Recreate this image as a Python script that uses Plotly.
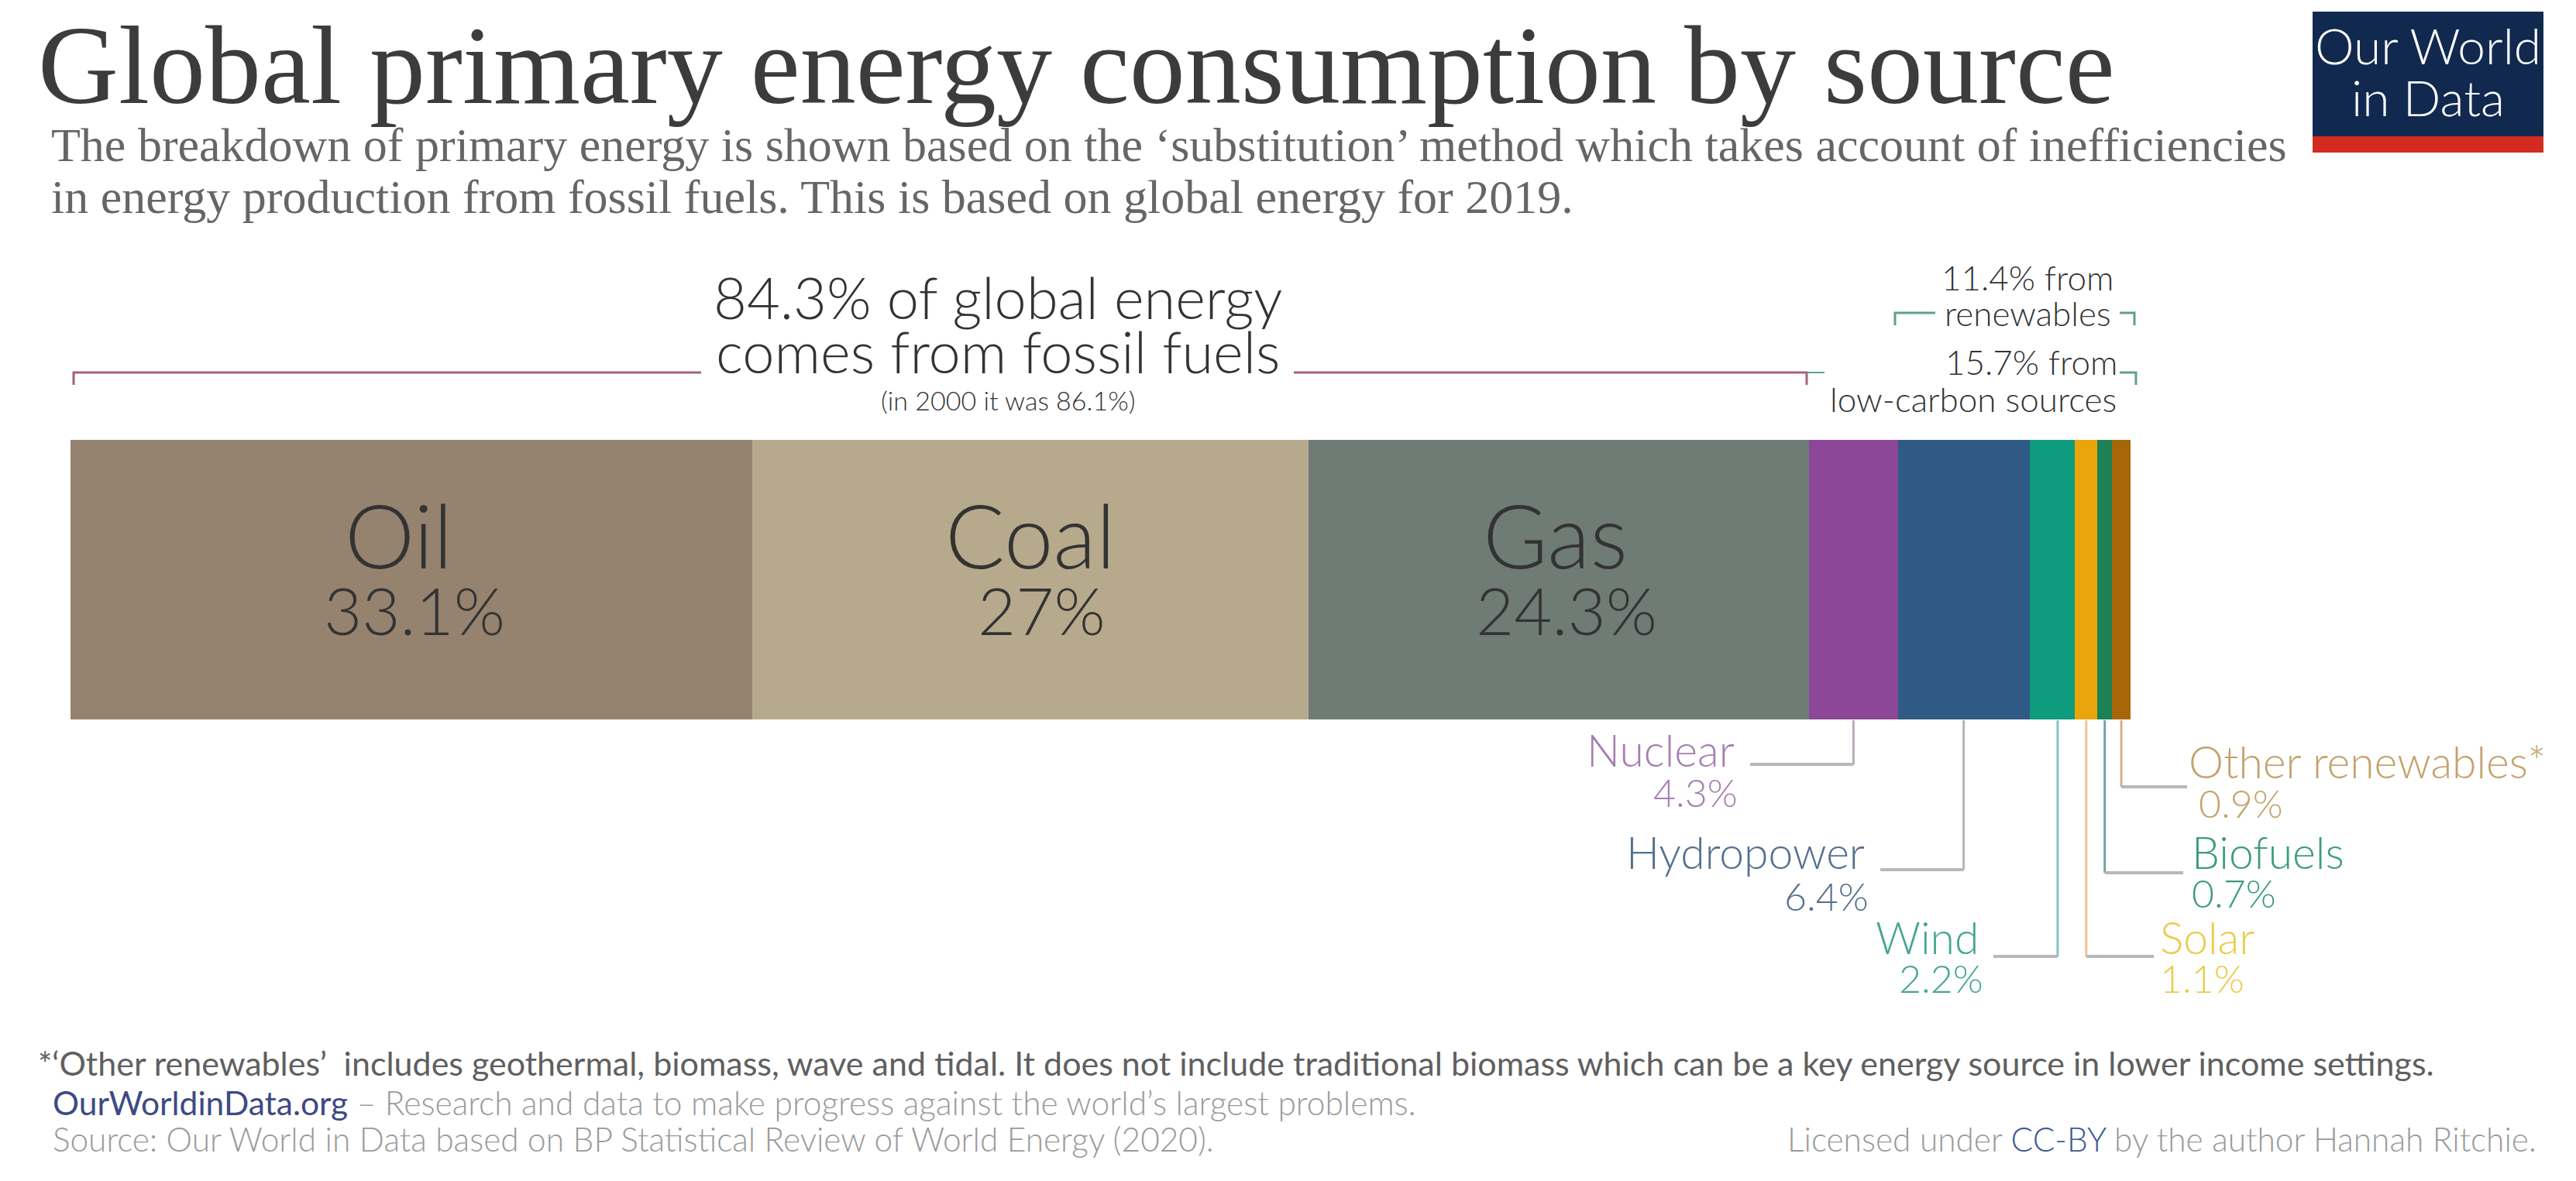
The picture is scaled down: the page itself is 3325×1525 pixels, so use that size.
import numpy as np
import plotly.graph_objects as go

W, H = 3325, 1525

# =====================================================
# DATA
# =====================================================
sources = ["Oil", "Coal", "Gas", "Nuclear", "Hydropower", "Wind", "Solar", "Biofuels", "Other renewables*"]
shares = [33.1, 27, 24.3, 4.3, 6.4, 2.2, 1.1, 0.7, 0.9]
bar_colors = ["#96836f", "#b7aa8c", "#6f7c76", "#8c4799", "#2f5a85", "#0e9b7e", "#eaa40c", "#1c8155", "#a76708"]
text_colors = ["#333333", "#333333", "#333333", "#a57db0", "#54708f", "#45a594", "#ecca4a", "#3b9c7b", "#c4a26c"]
stem_colors = ["", "", "", "#b9aab9", "#b4b4b4", "#7fc4c8", "#f0c48c", "#6fa6a6", "#d8ab90"]

fossil_note = ["84.3% of global energy", "comes from fossil fuels"]
fossil_sub = "(in 2000 it was 86.1%)"

title = "Global primary energy consumption by source"
subtitle = [
    "The breakdown of primary energy is shown based on the ‘substitution’ method which takes account of inefficiencies",
    "in energy production from fossil fuels. This is based on global energy for 2019.",
]
footnote = "*‘Other renewables’  includes geothermal, biomass, wave and tidal. It does not include traditional biomass which can be a key energy source in lower income settings."

SANS = "Lato"
SERIF = "Liberation Serif"

def px(x):
    return x / W

def py(y):
    return 1 - y / H

edges = np.concatenate([[0], np.cumsum(shares)])
centers = (edges[:-1] + edges[1:]) / 2

# =====================================================
# BAR
# =====================================================
fig = go.Figure()
for name, val, col in zip(sources, shares, bar_colors):
    fig.add_trace(go.Bar(x=[val], y=["share"], name=name, orientation="h",
                         marker=dict(color=col, line=dict(width=0))))

notes = []
def label(x, y, text, size, color="#333333", anchor="center", family=SANS, weight=300):
    notes.append(dict(x=px(x), y=py(y), xref="paper", yref="paper", text=text, showarrow=False,
                      xanchor=anchor, yanchor="middle",
                      font=dict(family=family, size=size, color=color, weight=weight)))

lines = []
def seg(xs, ys, color, width=3):
    path = "M " + " L ".join(f"{px(a)},{py(b)}" for a, b in zip(xs, ys))
    lines.append(dict(type="path", path=path, xref="paper", yref="paper",
                      line=dict(color=color, width=width)))

# =====================================================
# TITRES
# =====================================================
label(47, 85, title, 144, "#3c3c3c", "left", SERIF, 400)
label(64, 187, subtitle[0], 62, "#666666", "left", SERIF, 400)
label(64, 254, subtitle[1], 62, "#666666", "left", SERIF, 400)

# logo
lines.append(dict(type="rect", xref="paper", yref="paper", x0=px(2985), x1=px(3283), y0=py(15), y1=py(176),
                  fillcolor="#12294f", line=dict(width=0)))
lines.append(dict(type="rect", xref="paper", yref="paper", x0=px(2985), x1=px(3283), y0=py(176), y1=py(197),
                  fillcolor="#d42b21", line=dict(width=0)))
label(3134, 59, "Our World", 64, "#ffffff", weight=300)
label(3134, 126, "in Data", 64, "#ffffff", weight=300)

# =====================================================
# ACCOLADES
# =====================================================
pink = "#a8607c"
teal = "#5f9f8e"
seg([95, 95, 905], [497, 481, 481], pink, 3)
seg([1670, 2332, 2332], [481, 481, 497], pink, 3)
seg([2332, 2355], [481, 481], teal, 2)
seg([2736, 2757, 2757], [481, 481, 497], teal, 3)
seg([2446, 2446, 2498], [420, 404, 404], teal, 3)
seg([2736, 2755, 2755], [404, 404, 420], teal, 3)

label(1288, 383, fossil_note[0], 74)
label(1288, 453, fossil_note[1], 74)
label(1301, 517, fossil_sub, 34)
label(2617, 358, "11.4% from", 44)
label(2617, 404, "renewables", 44)
label(2622, 467, "15.7% from", 44)
label(2547, 515, "low-carbon sources", 44)

# =====================================================
# ETIQUETTES DANS LA BARRE
# =====================================================
name_shift = [-16, 0, -5]
value_shift = [4, 14, 10]
for i in range(3):
    x_pos = 91 + centers[i] * 26.59
    label(x_pos + name_shift[i], 689, sources[i], 114)
    label(x_pos + value_shift[i], 787, f"{shares[i]:g}%", 85)

# =====================================================
# ETIQUETTES SOUS LA BARRE
# =====================================================
# source index, bottom of leader, end of leader, label x, anchor, name y, value y, value x
leaders = [
    (3, 987, 2259, 2241, "right", 968, 1023, 2245),
    (4, 1123, 2427, 2409, "right", 1100, 1157, 2414),
    (5, 1235, 2573, 2556, "right", 1210, 1263, 2562),
    (6, 1235, 2780, 2786, "left", 1210, 1263, 2786),
    (7, 1127, 2818, 2827, "left", 1100, 1153, 2827),
    (8, 1016, 2823, 2823, "left", 983, 1037, 2836),
]
for i, y_end, x_end, x_lab, anchor, y_name, y_val, x_val in leaders:
    x_pos = 91 + centers[i] * 26.59
    if i == 5:
        x_pos += 7  # le trait du vent est un peu décalé dans l'original
    seg([x_pos, x_pos], [930, y_end], stem_colors[i], 3)
    seg([x_pos, x_end], [y_end, y_end], "#b8b8b8", 4)
    label(x_lab, y_name, sources[i], 57, text_colors[i], anchor)
    label(x_val, y_val, f"{shares[i]:g}%", 50, text_colors[i], anchor)

# =====================================================
# PIED DE PAGE
# =====================================================
label(47, 1372, footnote, 43, "#5f5f5f", "left", weight=400)
label(66, 1423, "<span style='color:#3d4a85;font-weight:400'>OurWorldinData.org</span> – Research and data to make progress against the world’s largest problems.",
      42.5, "#9a9a9a", "left")
label(66, 1470, "Source: Our World in Data based on BP Statistical Review of World Energy (2020).", 42.4, "#9a9a9a", "left")
label(3276, 1470, "Licensed under <span style='color:#3d5a95'>CC-BY</span> by the author Hannah Ritchie.", 42.4, "#9a9a9a", "right")

fig.update_layout(
    width=W, height=H, barmode="stack", bargap=0, showlegend=False,
    margin=dict(l=0, r=0, t=0, b=0),
    paper_bgcolor="white", plot_bgcolor="white",
    xaxis=dict(domain=[px(91), px(2750)], range=[0, 100], visible=False),
    yaxis=dict(domain=[py(929), py(568)], range=[-0.5, 0.5], visible=False),
    annotations=notes, shapes=lines,
)

# la page ajoute une marge de 8px autour du graphique
fig.write_html("out.html", config=dict(displayModeBar=False), post_script="document.body.style.margin='0';")
